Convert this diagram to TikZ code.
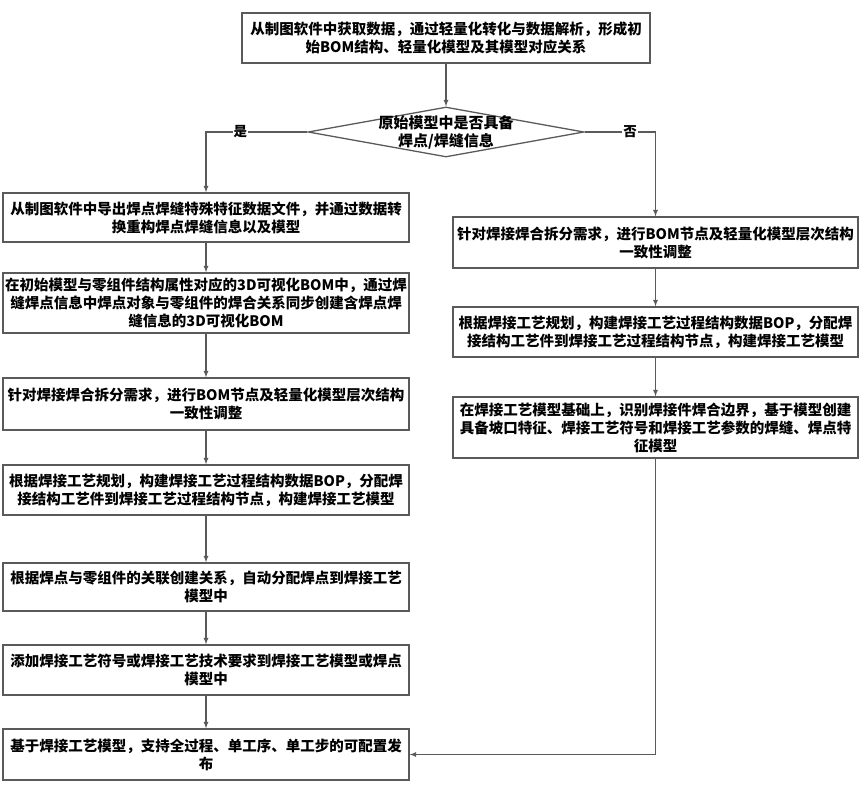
\documentclass[tikz,border=0pt]{standalone}
\usepackage{fontspec}
\setmainfont{Noto Sans CJK SC}
\usepackage{xcolor}
\usepackage{tikz}
\usetikzlibrary{positioning,arrows,shapes}

\definecolor{edgegray}{RGB}{90,90,90}

\begin{document}
\begin{tikzpicture}[
    x=1pt, y=-1pt,
    box/.style={draw=edgegray, line width=1.3pt, rectangle, align=center, inner sep=2pt,
        minimum width=406pt, font=\fontsize{14.5}{18}\selectfont\bfseries},
    rbox/.style={box, minimum width=405pt},
    judgebox/.style={draw=edgegray, line width=1.3pt, diamond, minimum width=276pt, minimum height=50pt, inner sep=0pt},
    line/.style={draw=edgegray, line width=1.2pt, -latex},
    tag/.style={fill=white, inner sep=1pt, font=\fontsize{13.5}{15}\selectfont\bfseries}
]
\useasboundingbox (0,0) rectangle (866,787);

\node[box, minimum width=408pt, minimum height=50pt] (top) at (446,38)
    {从制图软件中获取数据，通过轻量化转化与数据解析，形成初\\始BOM结构、轻量化模型及其模型对应关系};
\node[judgebox] (judge) at (446,132) {};
\node[align=center, inner sep=0pt, font=\fontsize{15}{18}\selectfont\bfseries] (judgetxt) at (446,132)
    {原始模型中是否具备\\焊点/焊缝信息};

% left branch
\node[box, minimum height=49pt] (s1) at (206,217.5)
    {从制图软件中导出焊点焊缝特殊特征数据文件，并通过数据转\\换重构焊点焊缝信息以及模型};
\node[box, minimum height=60pt] (s2) at (206,303)
    {在初始模型与零组件结构属性对应的3D可视化BOM中，通过焊\\缝焊点信息中焊点对象与零组件的焊合关系同步创建含焊点焊\\缝信息的3D可视化BOM};
\node[box, minimum height=52pt] (s3) at (206,404)
    {针对焊接焊合拆分需求，进行BOM节点及轻量化模型层次结构\\一致性调整};
\node[box, minimum height=50pt] (s4) at (206,490)
    {根据焊接工艺规划，构建焊接工艺过程结构数据BOP，分配焊\\接结构工艺件到焊接工艺过程结构节点，构建焊接工艺模型};
\node[box, minimum height=48pt] (s5) at (206,587)
    {根据焊点与零组件的关联创建关系，自动分配焊点到焊接工艺\\模型中};
\node[box, minimum height=50pt] (s6) at (206,670)
    {添加焊接工艺符号或焊接工艺技术要求到焊接工艺模型或焊点\\模型中};
\node[box, minimum height=51pt] (s7) at (206,754.5)
    {基于焊接工艺模型，支持全过程、单工序、单工步的可配置发\\布};

% right branch
\node[rbox, minimum height=51pt] (r1) at (655.5,242.5)
    {针对焊接焊合拆分需求，进行BOM节点及轻量化模型层次结构\\一致性调整};
\node[rbox, minimum height=50pt] (r2) at (655.5,332)
    {根据焊接工艺规划，构建焊接工艺过程结构数据BOP，分配焊\\接结构工艺件到焊接工艺过程结构节点，构建焊接工艺模型};
\node[rbox, minimum height=61pt] (r3) at (655.5,427.5)
    {在焊接工艺模型基础上，识别焊接件焊合边界，基于模型创建\\具备坡口特征、焊接工艺符号和焊接工艺参数的焊缝、焊点特\\征模型};

\draw[line] (top) -- (judge);
\draw[line] (judge.west) -| node[tag, pos=0.33] (yes) {是} (s1.north);
\draw[line] (judge.east) -| node[tag, pos=0.32] (no) {否} (r1.north);
\draw[line] (s1) -- (s2);
\draw[line] (s2) -- (s3);
\draw[line] (s3) -- (s4);
\draw[line] (s4) -- (s5);
\draw[line] (s5) -- (s6);
\draw[line] (s6) -- (s7);
\draw[line] (r1) -- (r2);
\draw[line] (r2) -- (r3);
\draw[line] (r3.south) |- (s7.east);
\end{tikzpicture}
\end{document}
